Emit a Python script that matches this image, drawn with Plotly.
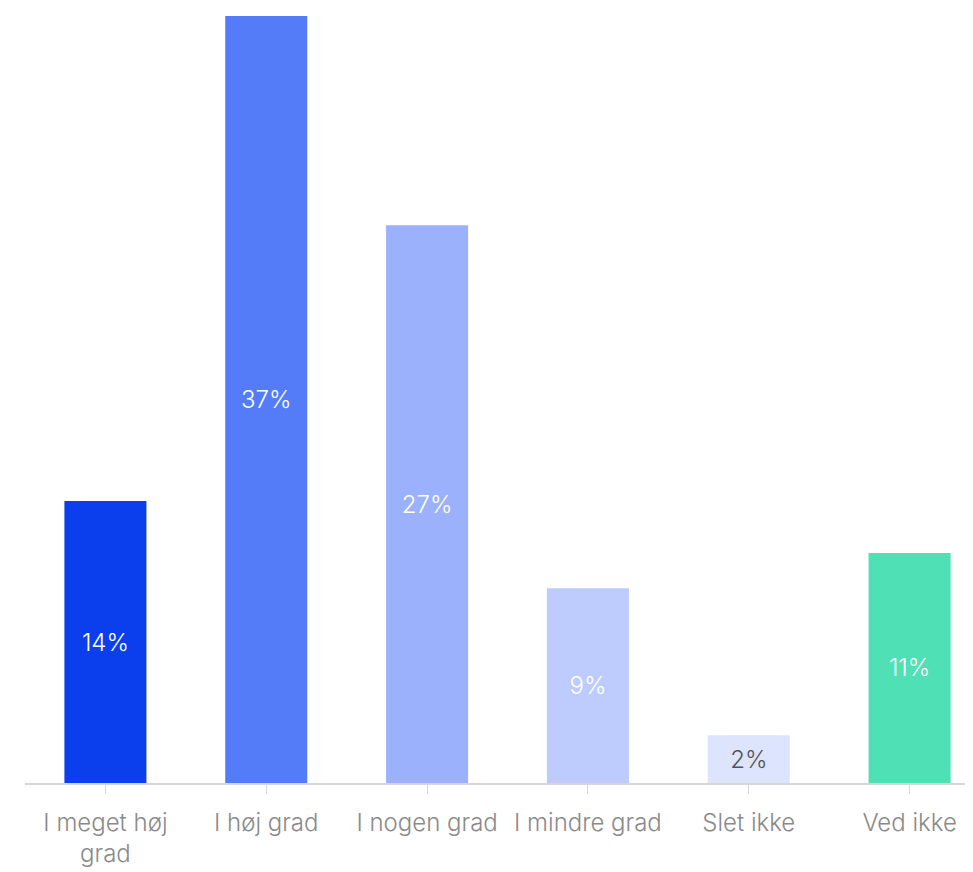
import plotly.graph_objects as go

categories = ["I meget høj<br>grad", "I høj grad", "I nogen grad", "I mindre grad", "Slet ikke", "Ved ikke"]
values = [13.6, 37.0, 26.9, 9.4, 2.3, 11.1]
labels = ["14%", "37%", "27%", "9%", "2%", "11%"]
colors = ["#0b3fed", "#557cf8", "#9bb1fb", "#bdcbfd", "#dde4fd", "#4fe0b5"]
text_colors = ["#ffffff", "#ffffff", "#ffffff", "#ffffff", "#555555", "#ffffff"]

fig = go.Figure(go.Bar(
    x=list(range(len(categories))),
    y=values,
    text=labels,
    textposition="inside",
    insidetextanchor="middle",
    textangle=0,
    textfont=dict(family="Inter", size=24, color=text_colors, weight=300),
    marker=dict(color=colors, line=dict(width=0)),
    width=0.51,
    hoverinfo="skip",
))

fig.update_layout(
    width=973,
    height=872,
    margin=dict(l=17, r=0, t=8, b=97),
    paper_bgcolor="white",
    plot_bgcolor="white",
    showlegend=False,
    uniformtext=dict(mode=False),
    font=dict(family="Inter", weight=300),
)
fig.update_xaxes(
    range=[-0.5, 5.444],
    tickmode="array",
    tickvals=list(range(len(categories))),
    ticktext=categories,
    tickson="boundaries",
    ticks="outside",
    ticklen=9,
    ticklabelstandoff=8,
    tickcolor="#d6d6d6",
    showline=True,
    linecolor="#d6d6d6",
    linewidth=1.5,
    showgrid=False,
    tickfont=dict(family="Inter", size=24, color="#8a8a8a", weight=300),
)
fig.update_yaxes(range=[0, 37.0], visible=False, showgrid=False, zeroline=False)

fig.write_html("out.html")
